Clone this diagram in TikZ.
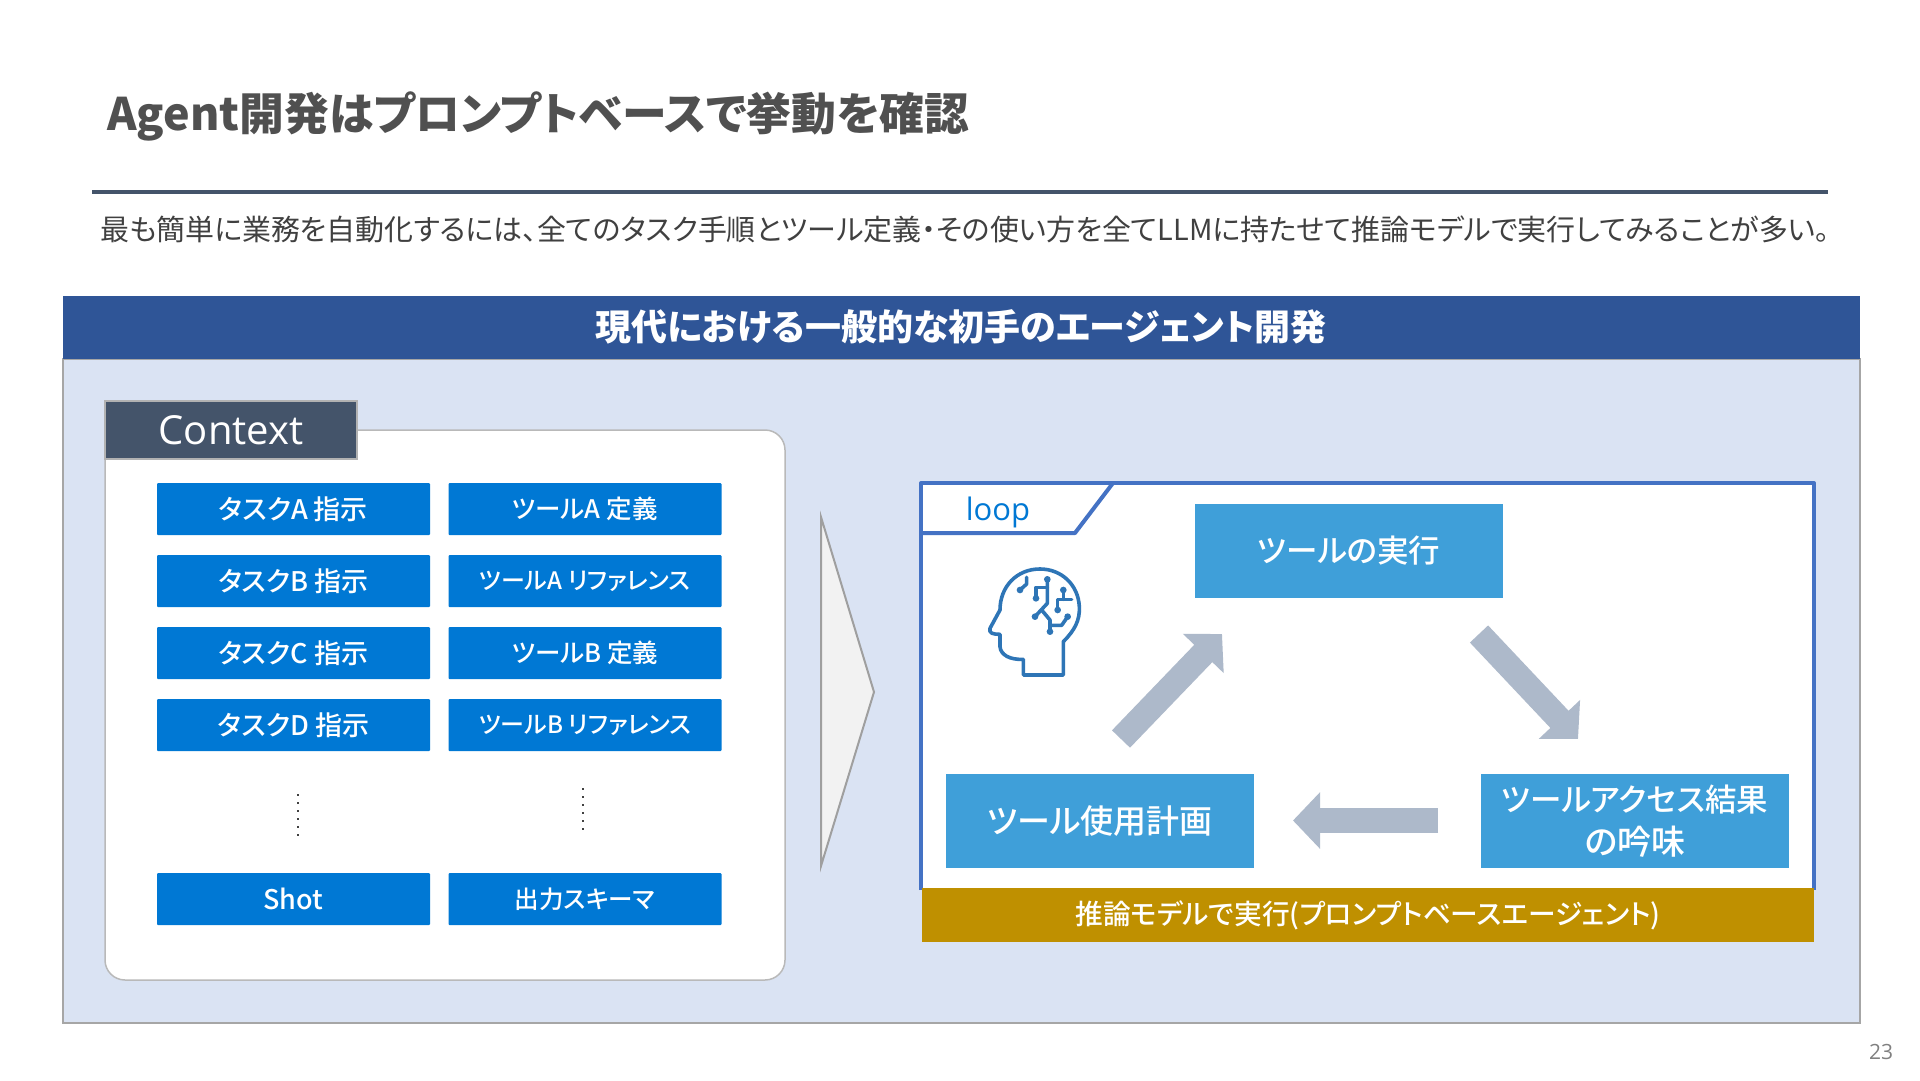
\documentclass[tikz,border=0pt]{standalone}
\usepackage{fontspec}
\usetikzlibrary{arrows.meta}
\setmainfont{Noto Sans CJK JP}[RawFeature=+palt]
\newfontfamily\med{Noto Sans CJK JP Medium}[RawFeature=+palt]
\newfontfamily\lat{Open Sans}
\definecolor{hdr}{HTML}{2F5597}
\definecolor{pane}{HTML}{DAE3F3}
\definecolor{slate}{HTML}{44546A}
\definecolor{bluebox}{HTML}{0078D4}
\definecolor{skybox}{HTML}{3F9FD9}
\definecolor{gold}{HTML}{BF9000}
\definecolor{loopc}{HTML}{4472C4}
\definecolor{arrowc}{HTML}{ADB9CA}
\definecolor{ink}{HTML}{404040}
\definecolor{titlec}{HTML}{505050}
\definecolor{icon}{HTML}{2E75B6}
\tikzset{
 tbox/.style={fill=bluebox,text=white,minimum width=273pt,minimum height=52pt,inner sep=0pt,rounded corners=1pt},
 sbox/.style={fill=skybox,text=white,minimum width=308pt,minimum height=94pt,inner sep=0pt,font=\fontsize{31.5}{43}\selectfont\med,align=center},
 blockarr/.style={draw=arrowc,line width=25pt,-{Triangle[length=27pt,width=55pt]}},
 dotline/.style={draw=ink,line width=2pt,dash pattern=on 2pt off 6pt},
 iconline/.style={draw=icon,line width=3.6pt,line cap=round,line join=round},
 icondot/.style={fill=icon,draw=none}
}
\begin{document}
\begin{tikzpicture}[x=1pt,y=-1pt]
\useasboundingbox (0,0) rectangle (1920,1080);
\fill[white] (0,0) rectangle (1920,1080);
\node[anchor=west,text=titlec,font=\fontsize{44.8}{50}\selectfont\bfseries,inner sep=0pt] (title) at (107,116) {Agent開発はプロンプトベースで挙動を確認};
\coordinate (ruleL) at (92,192); \coordinate (ruleR) at (1828,192);
\draw[slate,line width=4pt] (ruleL) -- (ruleR);
\node[anchor=west,text=ink,font=\fontsize{28.95}{34}\selectfont,inner sep=0pt] (sub) at (100,229) {最も簡単に業務を自動化するには、全てのタスク手順とツール定義・その使い方を全てLLMに持たせて推論モデルで実行してみることが多い。};
\fill[pane] (63,296) rectangle (1860,1023);
\draw[gray!70,line width=1.5pt] (63,359) rectangle (1860,1023);
\fill[hdr] (63,296) rectangle (1860,359);
\node[text=white,font=\fontsize{36}{42}\selectfont\bfseries,inner sep=0pt] (head) at (961,327) {現代における一般的な初手のエージェント開発};
% context
\draw[fill=white,draw=gray!55,line width=1.5pt,rounded corners=20pt] (105,430) rectangle (785,980);
\node[fill=slate,draw=gray!60,line width=1.5pt,minimum width=252pt,minimum height=58pt,inner sep=0pt,text=white,font=\fontsize{40}{42}\selectfont\lat] (ctx) at (231,430) {Context};
\foreach \n/\y/\a/\sa/\b/\sb in {r1/509/タスクA 指示/27/ツールA 定義/25.5,r2/581/タスクB 指示/27/ツールA リファレンス/24,r3/653/タスクC 指示/27/ツールB 定義/25.5,r4/725/タスクD 指示/27/ツールB リファレンス/24,r5/899/Shot/27/出力スキーマ/24.5}{
 \node[tbox,font=\fontsize{\sa}{30}\selectfont\med] (\n l) at (293.5,\y) {\a};
 \node[tbox,font=\fontsize{\sb}{30}\selectfont\med] (\n r) at (585,\y) {\b};
}
\coordinate (d1a) at (298,794); \coordinate (d1b) at (298,836);
\coordinate (d2a) at (583,788); \coordinate (d2b) at (583,830);
\draw[dotline] (d1a) -- (d1b);
\draw[dotline] (d2a) -- (d2b);
% triangle
\draw[fill=black!5,draw=gray!75,line width=2pt,line join=miter] (821,517) -- (874,692) -- (821,866) -- cycle;
% loop
\fill[white] (921,483) rectangle (1814,890);
\draw[loopc,line width=4pt,line join=round] (921,890) -- (921,483) -- (1814,483) -- (1814,890);
\draw[loopc,line width=4pt,line join=round] (921,533) -- (1075,533) -- (1113,483);
\node[text=bluebox,font=\fontsize{31}{38}\selectfont\lat,inner sep=0pt] (loop) at (998,512) {loop};
\node[sbox] (exec) at (1349,551) {ツールの実行};
\node[sbox,font=\fontsize{33}{43}\selectfont\med] (plan) at (1100,821) {ツール使用計画};
\node[sbox] (res) at (1635,821) {ツールアクセス結果\\{\fontsize{34}{43}\selectfont の吟味}};
\node[fill=gold,text=white,minimum width=892pt,minimum height=54pt,inner sep=0pt,font=\fontsize{27.7}{34}\selectfont\med] (run) at (1368,915) {\raisebox{-2pt}{推論モデルで実行(プロンプトベースエージェント)}};
\coordinate (a1s) at (1121,739); \coordinate (a1e) at (1222,634);
\coordinate (a2s) at (1479,634); \coordinate (a2e) at (1578,739);
\coordinate (a3s) at (1438,820.5); \coordinate (a3e) at (1293,820.5);
\draw[blockarr] (a1s) -- (a1e);
\draw[blockarr] (a2s) -- (a2e);
\draw[blockarr] (a3s) -- (a3e);
% brain icon
\begin{scope}[shift={(900,470)},x=.3333pt,y=-.3333pt]
\draw[iconline] (490,615) -- (490,515) .. controls (525,480) and (540,450) .. (538,410) .. controls (535,345) and (485,297) .. (420,297) .. controls (350,297) and (300,350) .. (300,420) -- (270,475) .. controls (265,490) and (280,493) .. (300,493) -- (300,530) .. controls (302,555) and (330,570) .. (370,568) -- (370,615) -- cycle;
\draw[iconline] (442,328) -- (442,400) -- (405,440);
\draw[iconline] (442,352) -- (408,352) -- (408,385);
\draw[iconline] (425,420) -- (450,450) -- (450,485);
\draw[iconline] (450,466) -- (485,466) -- (503,440);
\draw[iconline] (490,360) -- (490,388);
\draw[iconline] (515,388) -- (473,388) -- (473,420);
\draw[iconline] (380,322) -- (380,342) -- (360,360);
\foreach \p in {(442,328),(408,385),(405,440),(450,485),(503,440),(490,360),(473,420),(360,360)}
 \fill[icondot] \p circle (10);
\end{scope}
\node[text=gray,font=\fontsize{21}{24}\selectfont\lat,inner sep=0pt] (pg) at (1881,1052) {23};
\end{tikzpicture}
\end{document}
